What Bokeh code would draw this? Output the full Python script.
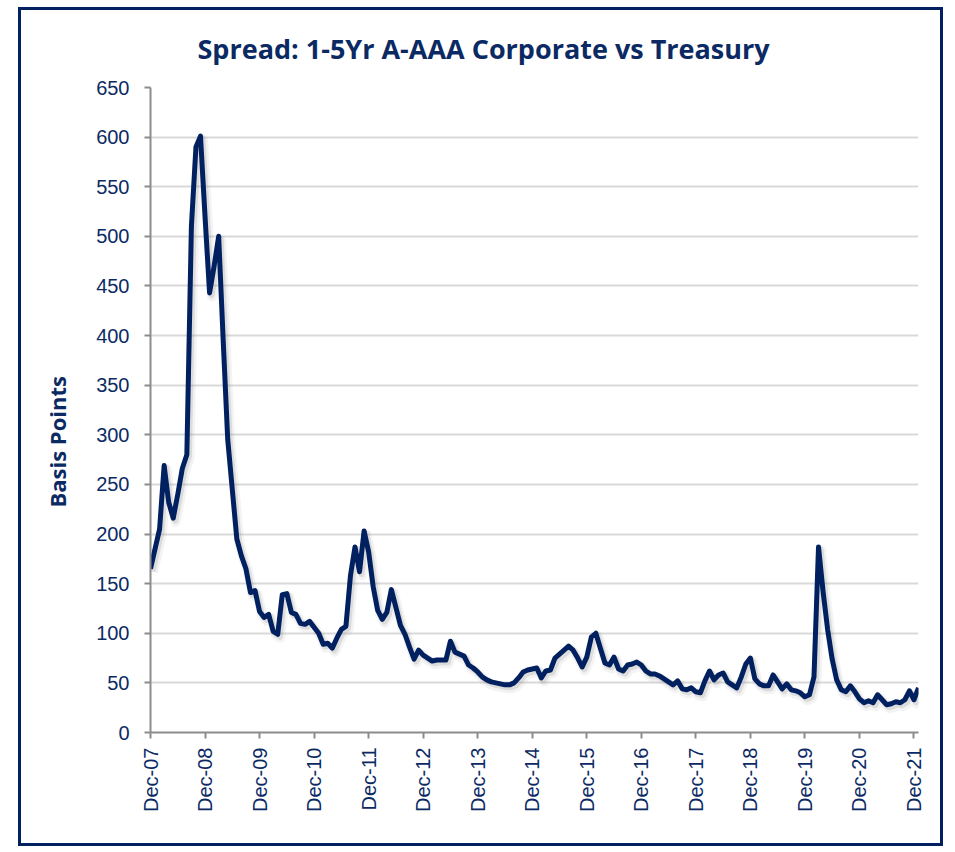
import numpy as np
from bokeh.plotting import figure
from bokeh.models import Range1d, FixedTicker, Title, ColumnDataSource
from bokeh.transform import dodge
from bokeh.embed import file_html
from bokeh.resources import INLINE

# Monthly spread (bp), Dec-07 .. Jan-22
spread_bp = [
    165, 185, 205, 269, 232, 216, 240, 266, 280, 510, 590, 601,   # Dec-07 .. Nov-08
    520, 443, 470, 500, 395, 295, 245, 195, 178, 165, 141, 143,   # Dec-08 .. Nov-09
    122, 116, 119, 102, 99, 139, 140, 121, 119, 110, 109, 112,    # Dec-09 .. Nov-10
    106, 100, 89, 90, 85, 95, 104, 107, 158, 187, 162, 203,       # Dec-10 .. Nov-11
    182, 147, 123, 114, 121, 144, 126, 108, 99, 86, 74, 83,       # Dec-11 .. Nov-12
    78, 75, 72, 73, 73, 73, 92, 81, 79, 77, 68, 65,               # Dec-12 .. Nov-13
    61, 56, 53, 51, 50, 49, 48, 48, 50, 55, 61, 63,               # Dec-13 .. Nov-14
    64, 65, 55, 62, 63, 75, 79, 83, 87, 83, 75, 66,               # Dec-14 .. Nov-15
    76, 96, 100, 85, 70, 68, 76, 64, 62, 68, 69, 71,              # Dec-15 .. Nov-16
    68, 62, 59, 59, 57, 54, 51, 48, 52, 44, 43, 45,               # Dec-16 .. Nov-17
    41, 40, 52, 62, 53, 58, 60, 51, 48, 45, 56, 69,               # Dec-17 .. Nov-18
    75, 54, 49, 47, 47, 58, 51, 44, 49, 43, 42, 40,               # Dec-18 .. Nov-19
    36, 38, 56, 187, 142, 104, 74, 53, 43, 41, 47, 41,            # Dec-19 .. Nov-20
    34, 30, 32, 30, 38, 33, 28, 29, 31, 30, 33, 42,               # Dec-20 .. Nov-21
    33, 45,                                                       # Dec-21 .. Jan-22
]
tick_labels = ["Dec-07", "Dec-08", "Dec-09", "Dec-10", "Dec-11", "Dec-12", "Dec-13",
               "Dec-14", "Dec-15", "Dec-16", "Dec-17", "Dec-18", "Dec-19", "Dec-20", "Dec-21"]
y_ticks = list(range(0, 651, 50))

title_text = "Spread: 1-5Yr A-AAA Corporate vs Treasury"
y_title = "Basis Points"

NAVY = "#002060"
TEXT_NAVY = "#0b2a64"
AXIS_GRAY = "#8c8c8c"

x = np.arange(len(spread_bp))
src = ColumnDataSource(dict(x=x, y=spread_bp))
tick_pos = [12 * i for i in range(len(tick_labels))]

p = figure(width=925, height=839, output_backend="svg", toolbar_location=None,
           x_range=Range1d(0, len(spread_bp) - 1), y_range=Range1d(0, 650),
           min_border_left=128, min_border_right=28, min_border_top=77, min_border_bottom=117)
p.title = None
p.outline_line_color = None
p.background_fill_color = "white"
p.border_fill_color = "white"
p.styles = {"margin-left": "18px", "margin-top": "7px", "border": f"3px solid {NAVY}"}

# shadow
p.line(x=dodge("x", 0.55, range=p.x_range), y=dodge("y", -3.5, range=p.y_range), source=src,
       line_color="#9a9a9a", line_width=10, line_alpha=0.12, line_join="round")
p.line(x=dodge("x", 0.45, range=p.x_range), y=dodge("y", -2.5, range=p.y_range), source=src,
       line_color="#808080", line_width=6, line_alpha=0.2, line_join="round")
# main line
p.line(x="x", y="y", source=src, line_color=NAVY, line_width=5, line_join="round")

# grid
p.xgrid.grid_line_color = None
p.ygrid.grid_line_color = "#d9d9d9"
p.ygrid.grid_line_width = 2
p.ygrid.ticker = FixedTicker(ticks=y_ticks)

# axes
p.yaxis.ticker = FixedTicker(ticks=y_ticks)
p.xaxis.ticker = FixedTicker(ticks=tick_pos)
p.xaxis.major_label_overrides = {pos: lab for pos, lab in zip(tick_pos, tick_labels)}
p.xaxis.major_label_orientation = np.pi / 2
for ax in (p.xaxis[0], p.yaxis[0]):
    ax.axis_line_color = AXIS_GRAY
    ax.axis_line_width = 2
    ax.major_tick_line_color = AXIS_GRAY
    ax.major_tick_line_width = 2
    ax.major_tick_out = 6
    ax.major_tick_in = 0
    ax.minor_tick_line_color = None
    ax.major_label_text_color = TEXT_NAVY
    ax.major_label_text_font = "Liberation Sans"
    ax.major_label_text_font_size = "20px"
p.yaxis.major_label_standoff = 15
p.xaxis.major_label_standoff = 9

# chart title and y-axis title
p.add_layout(Title(text=title_text, align="left", offset=47, standoff=37, vertical_align="top",
                   text_font="Open Sans", text_font_style="bold", text_font_size="27px",
                   text_color=TEXT_NAVY), "above")
p.add_layout(Title(text=y_title, align="left", offset=225, standoff=40, vertical_align="top",
                   text_font="Open Sans", text_font_style="bold", text_font_size="22px",
                   text_color=TEXT_NAVY), "left")

open("out.html", "w").write(file_html(p, INLINE))
